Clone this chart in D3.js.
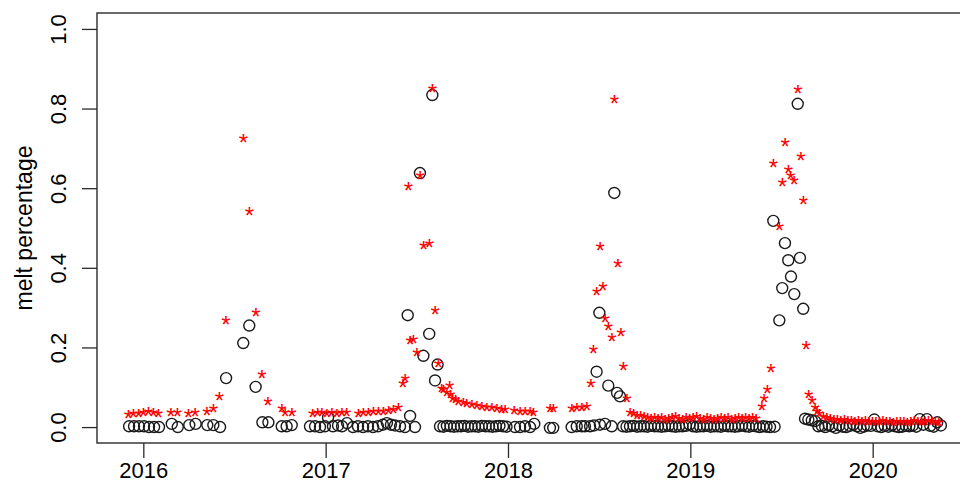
<!DOCTYPE html>
<html>
<head>
<meta charset="utf-8">
<script src="https://cdn.jsdelivr.net/npm/d3@7"></script>
<style>
  body { margin: 0; background: #fff; }
  svg { display: block; }
  text { font-family: "Liberation Sans", Arial, sans-serif; fill: #000; }
</style>
</head>
<body>
<svg id="chart" width="960" height="490"></svg>
<script>
// Axis ticks and label
const yearTicks = [2016, 2017, 2018, 2019, 2020];
const meltTicks = [0, 0.2, 0.4, 0.6, 0.8, 1.0];
const yLabel = "melt percentage";

// Series drawn as open circles: [decimal year, melt fraction]
const circlePoints = [
  [2015.922,0.002],[2015.949,0.002],[2015.976,0.002],[2016.004,0.002],[2016.031,0.000],[2016.059,0.000],[2016.086,0.000],
  [2016.156,0.008],[2016.189,0.000],[2016.252,0.005],[2016.287,0.008],[2016.351,0.005],[2016.384,0.005],[2016.421,0.000],
  [2016.454,0.123],[2016.548,0.211],[2016.581,0.255],[2016.616,0.101],[2016.653,0.012],[2016.686,0.012],[2016.759,0.002],
  [2016.786,0.002],[2016.814,0.005],
  [2016.914,0.002],[2016.942,0.002],[2016.969,0.000],[2016.996,0.002],[2017.013,0.024],[2017.040,0.002],[2017.068,0.004],
  [2017.090,0.002],[2017.117,0.010],[2017.150,0.000],[2017.177,0.002],[2017.205,0.000],[2017.232,0.002],[2017.260,0.000],
  [2017.287,0.002],[2017.314,0.006],[2017.336,0.010],[2017.358,0.006],[2017.380,0.004],[2017.408,0.002],[2017.435,0.000],
  [2017.450,0.281],[2017.463,0.028],[2017.490,0.000],[2017.517,0.638],[2017.536,0.179],[2017.568,0.234],[2017.585,0.834],
  [2017.600,0.117],[2017.614,0.157],
  [2017.627,0.002],[2017.646,0.001],[2017.665,0.003],[2017.685,0.002],[2017.704,0.001],[2017.723,0.002],[2017.742,0.002],
  [2017.761,0.003],[2017.781,0.001],[2017.800,0.002],[2017.819,0.002],[2017.838,0.001],[2017.857,0.003],[2017.877,0.002],
  [2017.896,0.002],[2017.915,0.001],[2017.934,0.002],[2017.953,0.003],[2017.973,0.002],[2017.992,0.001],
  [2018.038,0.000],[2018.066,0.000],[2018.093,0.002],[2018.121,0.000],[2018.144,0.008],[2018.230,-0.002],[2018.248,-0.002],
  [2018.349,0.000],[2018.377,0.002],[2018.404,0.002],[2018.422,0.002],[2018.450,0.002],[2018.472,0.004],[2018.486,0.139],
  [2018.501,0.287],[2018.504,0.006],[2018.532,0.008],[2018.550,0.104],[2018.569,0.002],[2018.583,0.588],[2018.598,0.086],
  [2018.614,0.077],
  [2018.631,0.002],[2018.650,0.001],[2018.669,0.002],[2018.689,0.003],[2018.708,0.001],[2018.727,0.002],[2018.746,0.002],
  [2018.765,0.001],[2018.784,0.003],[2018.804,0.002],[2018.823,0.002],[2018.842,0.001],[2018.861,0.002],[2018.880,0.003],
  [2018.900,0.002],[2018.919,0.001],[2018.938,0.002],[2018.957,0.002],[2018.976,0.003],[2018.996,0.006],[2019.015,0.002],
  [2019.034,0.001],[2019.053,0.002],[2019.072,0.002],[2019.092,0.003],[2019.111,0.001],[2019.130,0.002],[2019.149,0.002],
  [2019.168,0.001],[2019.188,0.003],[2019.207,0.002],[2019.226,0.002],[2019.245,0.001],[2019.264,0.002],[2019.284,0.004],
  [2019.303,0.002],[2019.322,0.001],[2019.341,0.003],[2019.360,0.002],[2019.380,0.000],[2019.399,0.002],[2019.418,0.001],
  [2019.437,0.000],
  [2019.455,0.518],[2019.462,0.001],[2019.488,0.268],[2019.504,0.349],[2019.519,0.462],[2019.537,0.419],[2019.552,0.378],
  [2019.570,0.334],[2019.589,0.812],[2019.601,0.425],[2019.619,0.297],[2019.629,0.021],[2019.647,0.019],[2019.666,0.017],
  [2019.684,0.015],[2019.702,0.002],
  [2019.721,0.003],[2019.740,0.000],[2019.759,0.005],[2019.778,0.002],[2019.798,-0.002],[2019.817,0.004],[2019.836,0.001],
  [2019.855,0.000],[2019.874,0.003],[2019.894,0.006],[2019.913,0.002],[2019.932,-0.002],[2019.951,0.001],[2019.970,0.004],
  [2019.990,0.003],[2020.009,0.019],[2020.028,0.002],[2020.047,0.000],[2020.066,0.003],[2020.086,0.001],[2020.105,0.005],
  [2020.124,0.002],[2020.143,0.000],[2020.162,0.001],[2020.182,0.003],[2020.201,0.002],[2020.220,0.004],[2020.239,0.001],
  [2020.258,0.020],[2020.278,0.006],[2020.297,0.020],[2020.316,0.003],[2020.335,0.001],[2020.354,0.012],[2020.374,0.004]
];

// Series drawn as red asterisks: [decimal year, melt fraction]
const starPoints = [
  [2015.918,0.031],[2015.945,0.033],[2015.973,0.033],[2016.000,0.036],[2016.027,0.038],[2016.055,0.036],[2016.082,0.033],
  [2016.150,0.037],[2016.186,0.037],[2016.247,0.033],[2016.284,0.036],[2016.348,0.038],[2016.384,0.047],[2016.417,0.077],
  [2016.452,0.268],[2016.548,0.726],[2016.581,0.542],[2016.616,0.289],[2016.649,0.132],[2016.682,0.063],[2016.759,0.046],
  [2016.777,0.036],[2016.814,0.036],
  [2016.928,0.033],[2016.955,0.036],[2016.978,0.036],[2017.006,0.033],[2017.033,0.036],[2017.061,0.033],[2017.088,0.036],
  [2017.115,0.036],[2017.179,0.033],[2017.206,0.036],[2017.234,0.036],[2017.261,0.038],[2017.289,0.038],[2017.316,0.040],
  [2017.344,0.041],[2017.371,0.044],[2017.398,0.048],[2017.423,0.109],[2017.435,0.123],[2017.453,0.603],[2017.463,0.218],
  [2017.481,0.220],[2017.499,0.188],[2017.517,0.631],[2017.536,0.455],[2017.568,0.462],[2017.585,0.851],[2017.600,0.293],
  [2017.618,0.159],[2017.636,0.098],[2017.645,0.094],[2017.664,0.086],[2017.679,0.104],[2017.685,0.082],[2017.696,0.073],
  [2017.712,0.069],[2017.727,0.065],[2017.755,0.061],[2017.773,0.059],[2017.801,0.056],[2017.828,0.055],[2017.856,0.052],
  [2017.883,0.050],[2017.911,0.048],[2017.938,0.046],[2017.965,0.044],[2017.984,0.044],
  [2018.033,0.042],[2018.066,0.040],[2018.093,0.040],[2018.121,0.040],[2018.139,0.037],[2018.230,0.046],[2018.248,0.046],
  [2018.349,0.046],[2018.377,0.048],[2018.404,0.048],[2018.432,0.052],[2018.454,0.109],[2018.468,0.196],[2018.486,0.341],
  [2018.504,0.454],[2018.519,0.352],[2018.532,0.272],[2018.550,0.253],[2018.569,0.224],[2018.583,0.824],[2018.602,0.410],
  [2018.619,0.238],[2018.632,0.151],[2018.651,0.073],[2018.669,0.036],
  [2018.688,0.033],[2018.707,0.030],[2018.726,0.028],[2018.746,0.026],[2018.765,0.025],[2018.784,0.022],[2018.803,0.024],
  [2018.822,0.021],[2018.842,0.023],[2018.861,0.020],[2018.880,0.022],[2018.899,0.025],[2018.918,0.027],[2018.938,0.022],
  [2018.957,0.020],[2018.976,0.023],[2018.995,0.021],[2019.014,0.024],[2019.034,0.026],[2019.053,0.022],[2019.072,0.020],
  [2019.091,0.023],[2019.110,0.021],[2019.130,0.019],[2019.149,0.022],[2019.168,0.024],[2019.187,0.021],[2019.206,0.023],
  [2019.226,0.020],[2019.245,0.022],[2019.264,0.025],[2019.283,0.022],[2019.302,0.024],[2019.322,0.021],[2019.341,0.023],
  [2019.360,0.022],
  [2019.391,0.051],[2019.404,0.071],[2019.422,0.094],[2019.441,0.146],[2019.455,0.661],[2019.488,0.504],[2019.504,0.615],
  [2019.519,0.715],[2019.537,0.646],[2019.550,0.631],[2019.568,0.619],[2019.589,0.849],[2019.605,0.680],[2019.619,0.568],
  [2019.634,0.205],[2019.648,0.082],[2019.667,0.068],[2019.684,0.048],[2019.695,0.040],[2019.707,0.035],[2019.729,0.027],
  [2019.748,0.024],[2019.767,0.022],[2019.786,0.020],[2019.806,0.019],[2019.825,0.017],[2019.844,0.018],[2019.863,0.016],
  [2019.882,0.017],[2019.902,0.015],[2019.921,0.016],[2019.940,0.014],[2019.959,0.016],[2019.978,0.015],[2019.998,0.013],
  [2020.017,0.015],[2020.036,0.014],[2020.055,0.016],[2020.074,0.013],[2020.094,0.014],[2020.113,0.012],[2020.132,0.014],
  [2020.151,0.013],[2020.170,0.015],[2020.190,0.012],[2020.209,0.014],[2020.228,0.016],[2020.247,0.013],[2020.266,0.015],
  [2020.286,0.014],[2020.305,0.016],[2020.324,0.013],[2020.343,0.015],[2020.362,0.012]
];

const svg = d3.select("#chart");
const plot = { left: 97, top: 13, right: 972.6, bottom: 443 };

const x = d3.scaleLinear().domain([2015.746, 2020.548]).range([plot.left, plot.right]);
const y = d3.scaleLinear().domain([-0.04, 1.04]).range([plot.bottom, plot.top]);

const ink = "#2b2b2b";
const fontSize = 22;

// Bottom axis (years)
const xAxis = svg.append("g")
  .attr("transform", `translate(0,${plot.bottom})`)
  .call(d3.axisBottom(x).tickValues(yearTicks).tickFormat(d3.format("d")).tickSize(15).tickPadding(4));
xAxis.select(".domain").remove();
xAxis.selectAll(".tick line").attr("stroke", ink).attr("stroke-width", 1.3);
xAxis.selectAll(".tick text").attr("font-size", fontSize).attr("fill", "#000")
  .style("font-family", '"Liberation Sans", Arial, sans-serif');

// Left axis (melt fraction), labels turned parallel to the axis
const yAxis = svg.append("g")
  .attr("transform", `translate(${plot.left},0)`)
  .call(d3.axisLeft(y).tickValues(meltTicks).tickFormat(d3.format(".1f")).tickSize(15));
yAxis.select(".domain").remove();
yAxis.selectAll(".tick line").attr("stroke", ink).attr("stroke-width", 1.3);
yAxis.selectAll(".tick text")
  .attr("transform", "rotate(-90)")
  .attr("x", 0).attr("y", -31).attr("dy", null)
  .attr("text-anchor", "middle")
  .attr("font-size", fontSize).attr("fill", "#000")
  .style("font-family", '"Liberation Sans", Arial, sans-serif');

// Y axis title
svg.append("text")
  .attr("transform", `translate(32,${(plot.top + plot.bottom) / 2}) rotate(-90)`)
  .attr("text-anchor", "middle")
  .attr("font-size", 23)
  .text(yLabel);

// Plot frame
svg.append("rect")
  .attr("x", plot.left).attr("y", plot.top)
  .attr("width", plot.right - plot.left).attr("height", plot.bottom - plot.top)
  .attr("fill", "none").attr("stroke", ink).attr("stroke-width", 1.4);

// Open circles
svg.append("g").selectAll("circle")
  .data(circlePoints)
  .join("circle")
  .attr("cx", d => x(d[0]))
  .attr("cy", d => y(d[1]))
  .attr("r", 5.5)
  .attr("fill", "none")
  .attr("stroke", "#1a1a1a")
  .attr("stroke-width", 1.4);

// Asterisk glyphs, centred on their points using the glyph's ink box
const starSize = 24;
const ctx = document.createElement("canvas").getContext("2d");
ctx.font = `${starSize}px "Liberation Sans", Arial, sans-serif`;
const m = ctx.measureText("*");
const dxStar = -(m.actualBoundingBoxRight - m.actualBoundingBoxLeft) / 2;
const dyStar = (m.actualBoundingBoxAscent - m.actualBoundingBoxDescent) / 2;

svg.append("g").selectAll("text")
  .data(starPoints)
  .join("text")
  .attr("x", d => x(d[0]) + dxStar)
  .attr("y", d => y(d[1]) + dyStar)
  .attr("font-size", starSize)
  .style("fill", "#ff0000")
  .text("*");
</script>
</body>
</html>
